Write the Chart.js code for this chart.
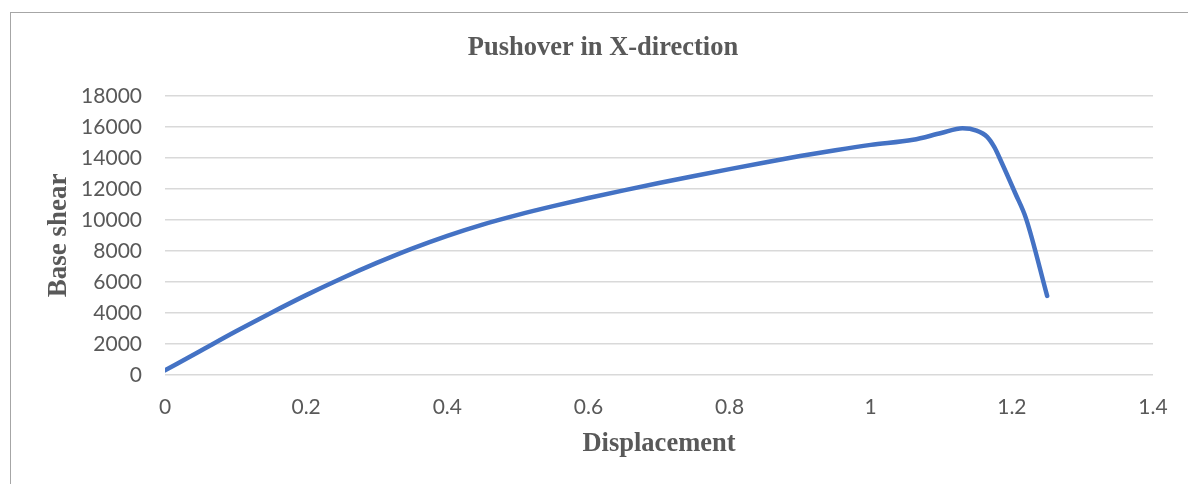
<!DOCTYPE html>
<html>
<head>
<meta charset="utf-8">
<script src="https://cdn.jsdelivr.net/npm/chart.js@4/dist/chart.umd.min.js"></script>
<style>
  html, body { margin: 0; padding: 0; background: #ffffff; }
  #wrap { position: relative; width: 1188px; height: 484px; overflow: hidden; }
  #frame { position: absolute; left: 10px; top: 12px; width: 1300px; height: 600px;
           border: 1px solid #a6a6a6; box-sizing: border-box; }
  #c { position: absolute; left: 0; top: 0; }
</style>
</head>
<body>
<div id="wrap">
  <div id="frame"></div>
  <canvas id="c" width="1188" height="484"></canvas>
</div>
<script>
// Pushover curve: roof displacement vs. base shear
const displacement = [0, 0.05, 0.1, 0.15, 0.2, 0.25, 0.3, 0.35, 0.4, 0.45, 0.5, 0.55, 0.6, 0.65, 0.7,
                      0.75, 0.8, 0.85, 0.9, 0.95, 1.0, 1.06, 1.1, 1.13, 1.15, 1.165, 1.175, 1.185, 1.205, 1.22, 1.25];
const baseShear = [300, 1550, 2800, 4000, 5150, 6225, 7225, 8150, 8975, 9700, 10325, 10885, 11410, 11905, 12375,
                   12830, 13275, 13705, 14115, 14495, 14835, 15165, 15600, 15900, 15750, 15350, 14700, 13750, 11700, 10100, 5100];
const xTicks = [0, 0.2, 0.4, 0.6, 0.8, 1, 1.2, 1.4];
const xTickLabels = ['0', '0.2', '0.4', '0.6', '0.8', '1', '1.2', '1.4'];
const yTicks = [0, 2000, 4000, 6000, 8000, 10000, 12000, 14000, 16000, 18000];
const yTickLabels = ['0', '2000', '4000', '6000', '8000', '10000', '12000', '14000', '16000', '18000'];

const points = displacement.map((d, i) => ({ x: d, y: baseShear[i] }));

const tickFont = { family: 'Lato, "Open Sans", sans-serif', size: 21 };
const serifFamily = '"Liberation Serif", "Times New Roman", serif';

new Chart(document.getElementById('c'), {
  type: 'line',
  data: {
    datasets: [{
      label: 'Base shear',
      data: points,
      borderColor: '#4472C4',
      borderWidth: 4.5,
      borderCapStyle: 'round',
      borderJoinStyle: 'round',
      pointRadius: 0,
      cubicInterpolationMode: 'monotone',
      fill: false
    }]
  },
  options: {
    responsive: false,
    animation: false,
    layout: { padding: { left: 18, right: 0, top: 0, bottom: 0 } },
    plugins: {
      legend: { display: false },
      tooltip: { enabled: false },
      title: {
        display: true,
        text: 'Pushover in X-direction',
        color: '#595959',
        font: { family: serifFamily, weight: 'bold', size: 26.5 },
        padding: { top: 32, bottom: 32 }
      }
    },
    scales: {
      x: {
        type: 'linear',
        min: 0,
        max: 1.4,
        afterBuildTicks: s => { s.ticks = xTicks.map(v => ({ value: v })); },
        afterFit: s => { s.height = 109; },
        grid: { display: false, drawTicks: false },
        border: { display: false },
        ticks: {
          color: '#595959',
          font: tickFont,
          padding: 20,
          maxRotation: 0,
          autoSkip: false,
          callback: (v) => { const i = xTicks.indexOf(v); return i >= 0 ? xTickLabels[i] : ''; }
        },
        title: {
          display: true,
          text: 'Displacement',
          color: '#595959',
          font: { family: serifFamily, weight: 'bold', size: 26.5 },
          padding: { top: 0, bottom: 24 }
        }
      },
      y: {
        type: 'linear',
        min: 0,
        max: 18000,
        afterBuildTicks: s => { s.ticks = yTicks.map(v => ({ value: v })); },
        afterFit: s => { s.width = 147; },
        grid: { color: '#d9d9d9', lineWidth: 1.5, drawTicks: false },
        border: { display: false },
        ticks: {
          color: '#595959',
          font: tickFont,
          padding: 23,
          autoSkip: false,
          callback: (v) => { const i = yTicks.indexOf(v); return i >= 0 ? yTickLabels[i] : ''; }
        },
        title: {
          display: true,
          text: 'Base shear',
          color: '#595959',
          font: { family: serifFamily, weight: 'bold', size: 27 },
          padding: { top: 25, bottom: 0 }
        }
      },
      // empty right-hand margin so the plot ends at 1.4 with room for its label
      margin: {
        type: 'linear',
        position: 'right',
        min: 0,
        max: 1,
        afterFit: s => { s.width = 35; },
        grid: { display: false, drawTicks: false },
        border: { display: false },
        ticks: { display: false }
      }
    }
  }
});
</script>
</body>
</html>
